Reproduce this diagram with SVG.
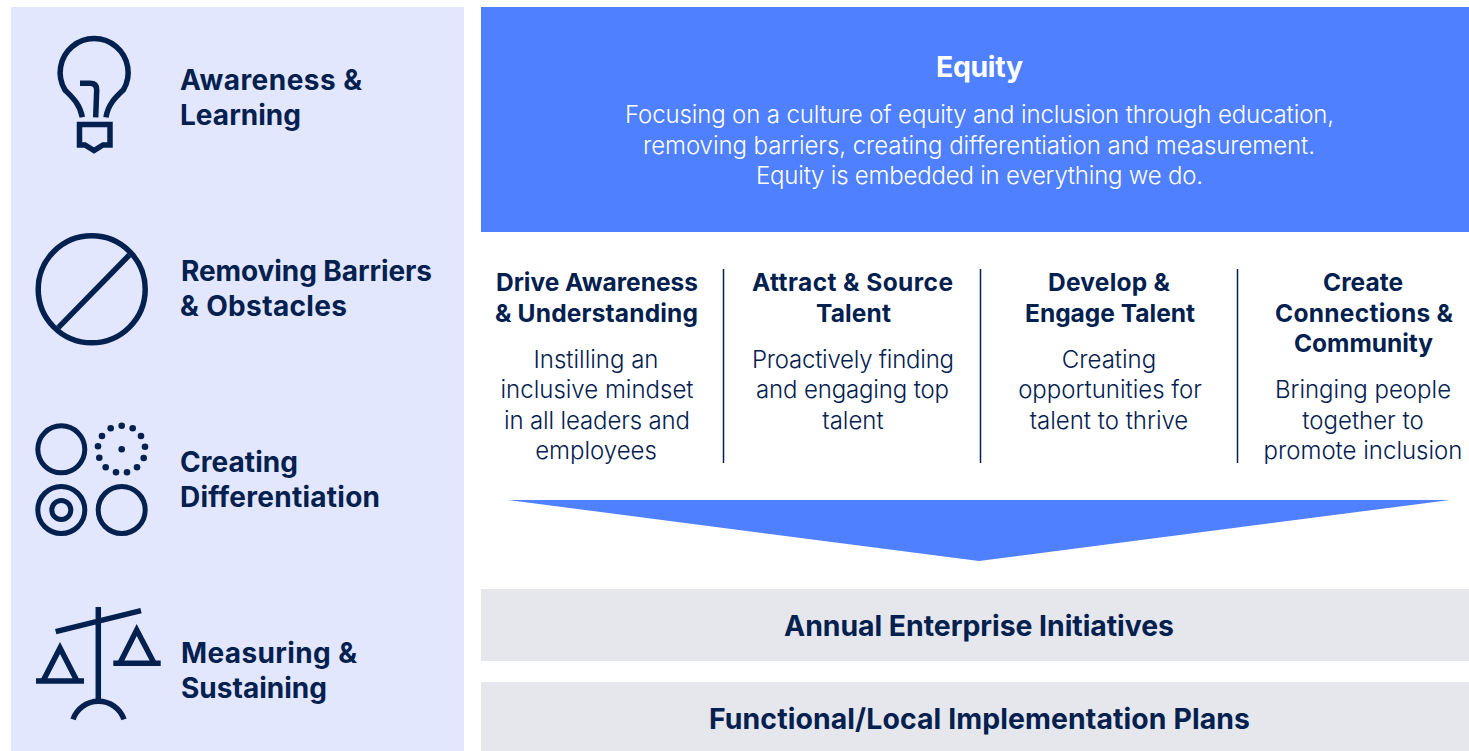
<svg xmlns="http://www.w3.org/2000/svg" width="1469" height="751" viewBox="0 0 1469 751">
<style>
text{font-family:Inter,"Liberation Sans",sans-serif;fill:#03204f;text-anchor:middle}
.l{font-size:28px;font-weight:700;text-anchor:start}
.h{font-size:24.5px;font-weight:700}
.b{font-size:24px;font-weight:300}
.w{fill:#fff}
.t{font-size:28.4px;font-weight:700}
.i{fill:none;stroke:#03204f;stroke-width:5.5}
.c{fill:none;stroke:#03204f;stroke-width:5}
.d{fill:#03204f}
.g{fill:#e6e7ec}
</style>
<rect x="11" y="7" width="453" height="744" fill="#e2e7fe"/>
<g id="awareness">
<g class="i"><path d="M82.3 117.3C80 104 72 97 65 90A34 34 0 1 1 123.3 90C116 97 108 104 106 117.3"/><path d="M80 83.3H90Q96.7 83.3 96.7 90L95.7 117.3"/><path d="M79.5 124.5H110V145H103L94 150.5L85 145H79.500Z"/></g>
<text class="l" x="180" y="89.500" textLength="182">Awareness &amp;</text><text class="l" x="180" y="124.500" textLength="121">Learning</text>
</g>
<g id="barriers">
<g class="i"><circle cx="91.7" cy="289.3" r="53.5"/><path d="M58.3 327.7L129.3 255"/></g>
<text class="l" x="181" y="280.500" textLength="251">Removing Barriers</text><text class="l" x="180" y="315.500" textLength="167">&amp; Obstacles</text>
</g>
<g id="differentiation">
<g class="c"><circle cx="61.3" cy="449.3" r="23.5"/><circle cx="61.3" cy="510" r="23.5"/><circle cx="61.3" cy="510" r="9.5"/><circle cx="121.7" cy="510" r="23.5"/></g>
<g class="d"><circle cx="121.7" cy="449.3" r="3.3"/><circle cx="121.7" cy="425.7" r="3.3"/><circle cx="132.7" cy="428.3" r="3.3"/><circle cx="141" cy="436" r="3.3"/><circle cx="145" cy="446.7" r="3.3"/><circle cx="143.7" cy="458" r="3.3"/><circle cx="137" cy="467.3" r="3.3"/><circle cx="127" cy="472.3" r="3.3"/><circle cx="116" cy="472.3" r="3.3"/><circle cx="105.7" cy="467.3" r="3.3"/><circle cx="99.3" cy="457.7" r="3.3"/><circle cx="98" cy="446.3" r="3.3"/><circle cx="102" cy="436" r="3.3"/><circle cx="110.7" cy="428.3" r="3.3"/></g>
<text class="l" x="180" y="471.500" textLength="118">Creating</text><text class="l" x="180" y="506.500" textLength="200">Differentiation</text>
</g>
<g id="measuring">
<g class="i"><path d="M98.3 607V700M55.7 631.7L141 610.7M36 681H84M113.3 663.3H160.7"/><path d="M43 681L60 648L77 681M120 663L136.7 630L154 663"/><path d="M73 719.3A27 27 0 0 1 124 719.3"/></g>
<text class="l" x="181" y="662.500" textLength="176">Measuring &amp;</text><text class="l" x="181" y="697.500" textLength="146">Sustaining</text>
</g>
<g id="equity">
<rect x="481" y="7" width="988" height="225" fill="#4f80ff"/>
<text class="t w" x="979.500" y="77" textLength="87">Equity</text>
<text class="b w" x="979.500" y="123" textLength="709">Focusing on a culture of equity and inclusion through education,</text>
<text class="b w" x="979" y="154" textLength="672">removing barriers, creating differentiation and measurement.</text>
<text class="b w" x="979.500" y="184" textLength="447">Equity is embedded in everything we do.</text>
</g>
<g id="connectors" stroke="#03204f" stroke-width="1.5"><path d="M723.5 269V463M980.5 269V463M1237.5 269V463"/></g>
<g id="drive"><text class="h" x="597" y="291" textLength="202">Drive Awareness</text><text class="h" x="596.500" y="322" textLength="203">&amp; Understanding</text>
<text class="b" x="596" y="368">Instilling an</text><text class="b" x="597" y="398">inclusive mindset</text><text class="b" x="597" y="429" textLength="186">in all leaders and</text><text class="b" x="596" y="459">employees</text></g>
<g id="attract"><text class="h" x="852.500" y="291" textLength="201">Attract &amp; Source</text><text class="h" x="853.500" y="322" textLength="75">Talent</text>
<text class="b" x="853" y="368" textLength="202">Proactively finding</text><text class="b" x="852.500" y="398" textLength="193">and engaging top</text><text class="b" x="853" y="429">talent</text></g>
<g id="develop"><text class="h" x="1109" y="291" textLength="122">Develop &amp;</text><text class="h" x="1110" y="322" textLength="170">Engage Talent</text>
<text class="b" x="1109" y="368">Creating</text><text class="b" x="1110" y="398">opportunities for</text><text class="b" x="1109" y="429">talent to thrive</text></g>
<g id="create"><text class="h" x="1363" y="291" textLength="80">Create</text><text class="h" x="1364" y="322" textLength="178">Connections &amp;</text><text class="h" x="1363.500" y="352" textLength="139">Community</text>
<text class="b" x="1363" y="398">Bringing people</text><text class="b" x="1363" y="429">together to</text><text class="b" x="1363" y="459">promote inclusion</text></g>
<g id="arrow"><path d="M508 500H1450L979 561Z" fill="#4f80ff"/></g>
<g id="annual"><rect class="g" x="481" y="589" width="988" height="72"/><text class="t" x="979" y="636" textLength="390">Annual Enterprise Initiatives</text></g>
<g id="functional"><rect class="g" x="481" y="682" width="988" height="69"/><text class="t" x="979.500" y="729" textLength="541">Functional/Local Implementation Plans</text></g>
</svg>
